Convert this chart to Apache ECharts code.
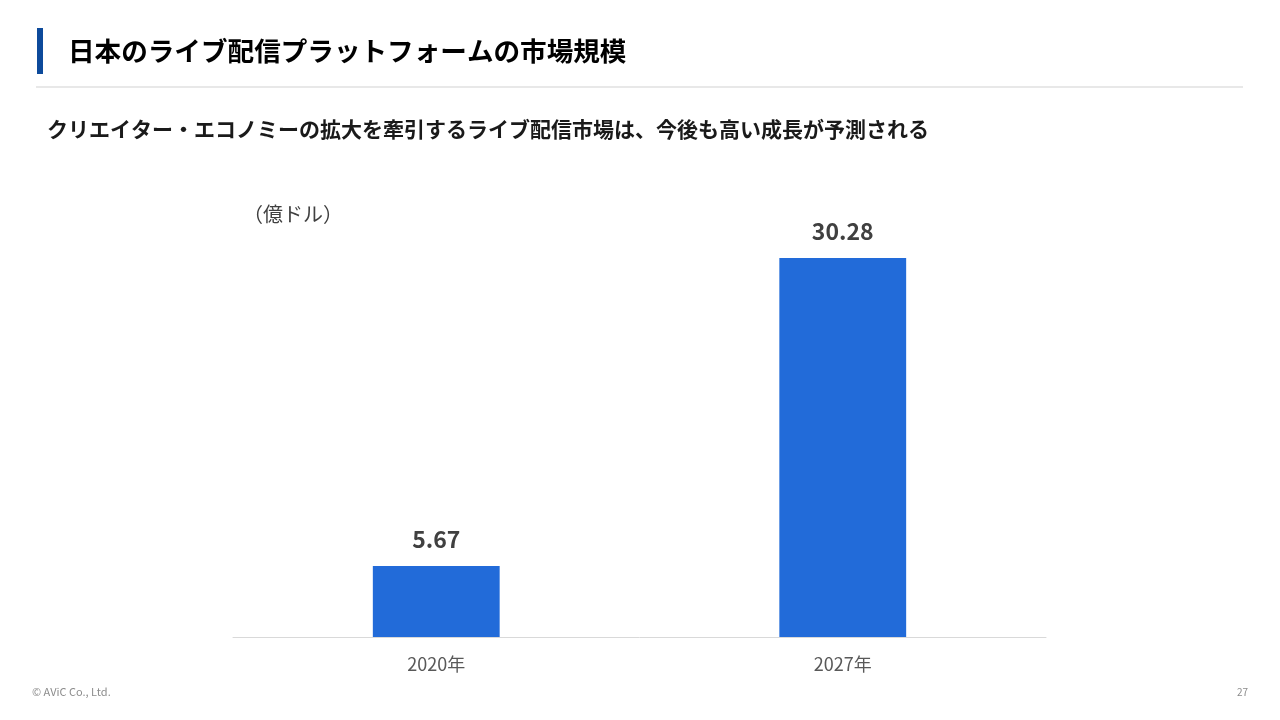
<!DOCTYPE html>
<html><head><meta charset="utf-8">
<script src="https://cdn.jsdelivr.net/npm/echarts@6/dist/echarts.min.js"></script>
<style>html,body{margin:0;padding:0;background:#fff}#c{width:1280px;height:720px}</style>
</head><body><div id="c"></div>
<script>
const title = '日本のライブ配信プラットフォームの市場規模';
const subtitle = 'クリエイター・エコノミーの拡大を牽引するライブ配信市場は、今後も高い成長が予測される';
const unitLabel = '（億ドル）';
const categories = ['2020年', '2027年'];
const values = [5.67, 30.28];
const footerLeft = '© AViC Co., Ltd.';
const pageNo = '27';

const FONT = '"Noto Sans CJK JP", "Noto Sans", sans-serif';
const chart = echarts.init(document.getElementById('c'));
chart.setOption({
  backgroundColor: '#fff',
  animation: false,
  grid: { left: 233, right: 234, top: 199, bottom: 83 },
  xAxis: {
    type: 'category', data: categories,
    axisLine: { lineStyle: { color: '#d9d9d9', width: 1 } },
    axisTick: { show: false },
    axisLabel: { color: '#595959', fontSize: 18, fontFamily: FONT, margin: 18 }
  },
  yAxis: { type: 'value', min: 0, max: 35, show: false, splitLine: { show: false } },
  series: [{
    type: 'bar', data: values, barWidth: '31.2%',
    itemStyle: { color: '#226bd9' },
    label: { show: true, position: 'top', distance: 15, color: '#404040', fontSize: 23, fontWeight: 'bold', fontFamily: FONT,
      formatter: p => p.value.toFixed(2) }
  }],
  graphic: [
    { type: 'rect', shape: { x: 37, y: 28, width: 6, height: 46 }, style: { fill: '#0d4a9b' } },
    { type: 'text', x: 68, y: 51, style: { text: title, fill: '#000', font: 'bold 26.6px ' + FONT, verticalAlign: 'middle' } },
    { type: 'line', shape: { x1: 36, y1: 87, x2: 1243, y2: 87 }, style: { stroke: '#e0e0e0', lineWidth: 1.5 } },
    { type: 'text', x: 47, y: 129, style: { text: subtitle, fill: '#1a1a1a', font: 'bold 21px ' + FONT, verticalAlign: 'middle' } },
    { type: 'text', x: 243, y: 214, style: { text: unitLabel, fill: '#404040', font: '20px ' + FONT, verticalAlign: 'middle' } },
    { type: 'text', x: 32, y: 692, style: { text: footerLeft, fill: '#8c8c8c', font: '11px ' + FONT, verticalAlign: 'middle' } },
    { type: 'text', x: 1248, y: 692, style: { text: pageNo, fill: '#8c8c8c', font: '10px ' + FONT, verticalAlign: 'middle', align: 'right' } }
  ]
});
</script></body></html>
